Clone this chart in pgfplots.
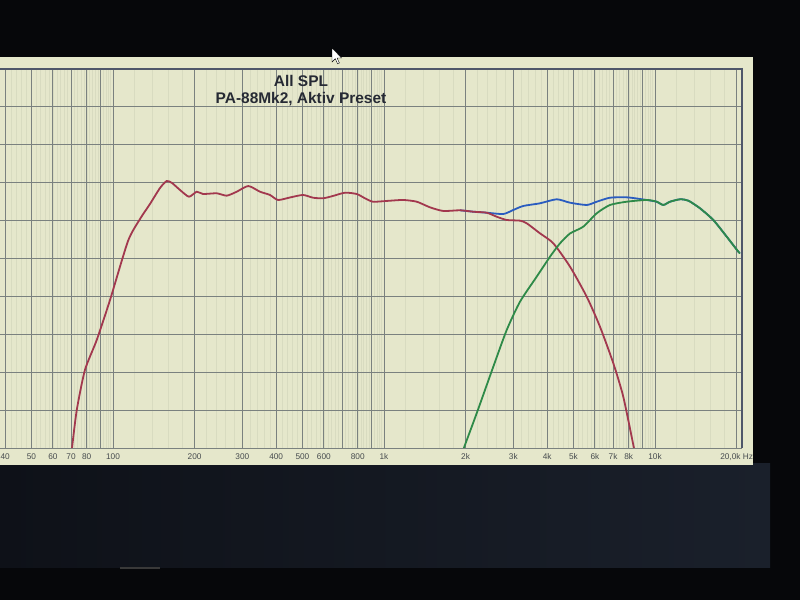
\documentclass[border=0pt]{standalone}
\usepackage{pgfplots}
\pgfplotsset{compat=1.18}
\usepackage{fontspec}
\setmainfont{Liberation Sans}
\definecolor{panel}{RGB}{229,231,203}
\definecolor{topblack}{RGB}{6,7,10}
\definecolor{navyL}{RGB}{14,17,24}
\definecolor{navyR}{RGB}{26,32,43}
\definecolor{gridc}{RGB}{122,129,127}
\definecolor{minorc}{RGB}{216,219,192}
\definecolor{framec}{RGB}{78,86,106}
\definecolor{titlec}{RGB}{38,42,52}
\definecolor{tickc}{RGB}{70,75,78}
\definecolor{wooferc}{RGB}{162,56,78}
\definecolor{sumc}{RGB}{42,92,192}
\definecolor{tweeterc}{RGB}{46,138,72}
\begin{document}
\begin{tikzpicture}[x=1bp,y=1bp]
\clip (0,0) rectangle (800,600);
\fill[topblack] (0,0) rectangle (800,600);
\shade[left color=navyL, right color=navyR] (0,32) rectangle (770,136);
\fill[gray!45!black] (120,31) rectangle (160,33);
\fill[panel] (-5,135) rectangle (753,543);
\begin{axis}[
  at={(-28.70bp,152bp)}, anchor=south west,
  scale only axis, width=770.7bp, height=379bp,
  xmode=log, log basis x=10,
  xmin=30, xmax=20945, ymin=50, ymax=100,
  axis line style={draw=none},
  tick style={draw=none},
  xtick={40,50,60,70,80,90,100,200,300,400,500,600,700,800,900,1000,2000,3000,4000,5000,6000,7000,8000,9000,10000,20000},
  xticklabels={40,50,60,70,80,,100,200,300,400,500,600,,800,,1k,2k,3k,4k,5k,6k,7k,8k,,10k,{20,0k Hz}},
  xticklabel style={font=\fontsize{8.3}{9}\selectfont, text=tickc, anchor=center, yshift=-9bp},
  minor xtick={32,34,...,98,120,140,...,980,1200,1400,...,9800,12000,14000,16000,18000},
  ytick={50,55,...,100},
  yticklabels={},
  xminorgrids=true, xmajorgrids=true, ymajorgrids=true,
  major grid style={draw=gridc, line width=0.8bp},
  minor grid style={draw=minorc, line width=0.3bp},
  clip=true,
]
% All SPL (sum) - mostly hidden below the woofer and tweeter curves
\addplot[sumc, line width=1.8bp, smooth, tension=0.4] coordinates {
(1907,81.36) (2136,81.17) (2393,81.04) (2755,80.87) (3000,81.40) (3266,81.93)
(3763,82.28) (4338,82.81) (4857,82.36) (5598,82.06) (6095,82.49) (6824,83.02)
(7863,83.07) (8806,82.85) (9831,82.59) (10150,82.49) (10730,82.06) (11360,82.49)
(12370,82.81) (13270,82.63) (14660,81.62) (16410,80.08) (18390,77.88) (20300,75.90) (20590,75.73)
};
% Woofer
\addplot[wooferc, line width=1.8bp, smooth, tension=0.4] coordinates {
(70.6,50.0) (73.5,55.01) (78.8,60.29) (87.1,64.25) (97.5,69.53) (113.6,77.31)
(125.8,80.21) (136.9,82.19) (149.1,84.30) (157.8,85.22) (165.1,84.96) (176.7,84.04)
(190.7,83.15) (203.7,83.81) (214.8,83.51) (241.4,83.60) (262.8,83.29) (286.1,83.81)
(315.7,84.56) (348.7,83.81) (379.6,83.38) (406.4,82.72) (449.9,83.05) (502.4,83.38)
(547.0,83.02) (595.6,82.94) (648.4,83.25) (717.9,83.68) (793.1,83.51) (851.0,82.94)
(911.0,82.49) (1023,82.59) (1175,82.72) (1321,82.49) (1478,81.75) (1655,81.27)
(1907,81.36) (2136,81.17) (2393,81.04) (2606,80.51) (2837,80.08) (3176,79.99)
(3363,79.64) (3763,78.32) (4215,77.00) (4857,73.92) (5598,69.96) (6266,66.00)
(7018,61.17) (7638,56.77) (8318,50.40) (8367,50.0)
};
% Tweeter
\addplot[tweeterc, line width=1.8bp, smooth, tension=0.4] coordinates {
(1973,50.0) (1990,50.40) (2198,54.58) (2531,60.73) (2837,65.57) (3176,69.30)
(3660,72.60) (4098,75.24) (4462,77.00) (4857,78.30) (5438,79.20)
(6095,80.96) (6824,82.06) (7863,82.49) (9319,82.72) (10150,82.49) (10730,82.06)
(11360,82.49) (12370,82.81) (13270,82.63) (14660,81.62) (16410,80.08) (18390,77.88)
(20300,75.90) (20590,75.73)
};
\end{axis}
% frame of the plot area
\draw[framec, line width=2.6bp] (-30,531) -- (742,531);
\draw[framec, line width=2bp] (742,532) -- (742,152);
\draw[gridc, line width=0.9bp] (-30,152) -- (742,152);
% titles
\node[font=\bfseries\fontsize{15.5}{17}\selectfont, text=titlec] at (301,519) {All SPL};
\node[font=\bfseries\fontsize{15.5}{17}\selectfont, text=titlec] at (301,501) {PA-88Mk2, Aktiv Preset};
% mouse pointer
\filldraw[fill=white, draw=black, line width=0.4bp]
  (332,552) -- (332,538) -- (335.3,541.3) -- (337.6,536.2) -- (339.4,537) -- (337.1,542) -- (341.6,542) -- cycle;
\end{tikzpicture}
\end{document}
